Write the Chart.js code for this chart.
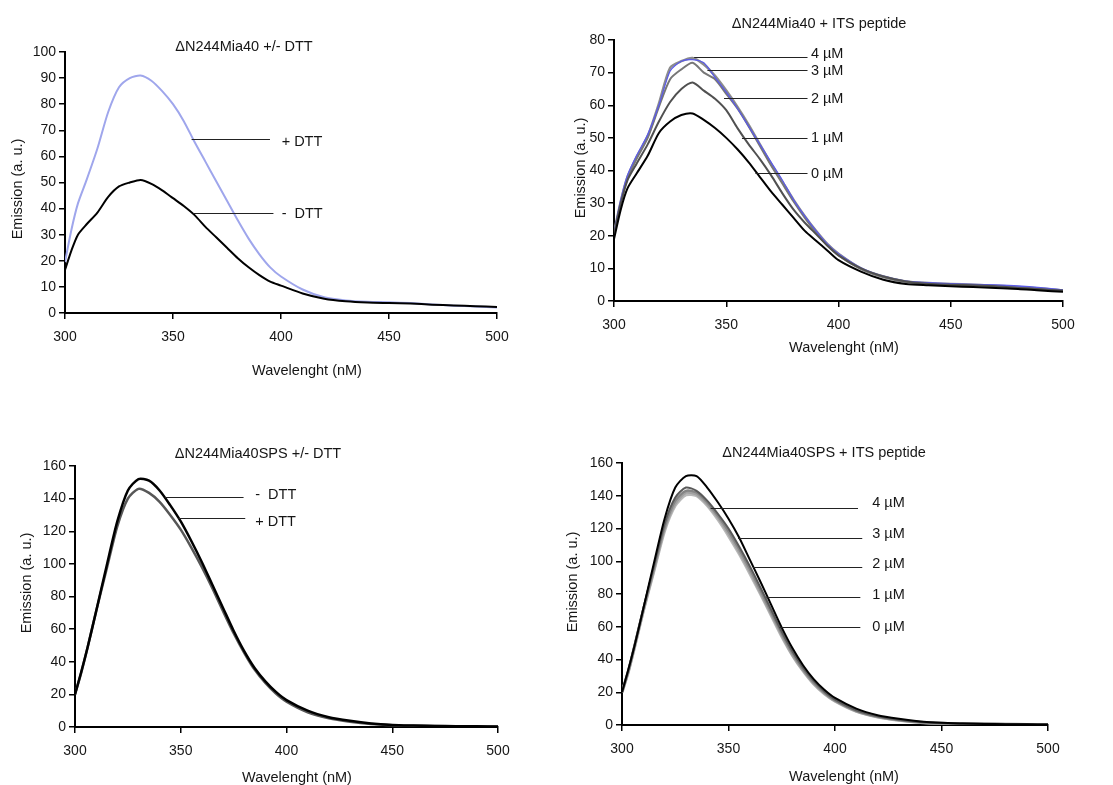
<!DOCTYPE html>
<html>
<head>
<meta charset="utf-8">
<script src="https://cdn.jsdelivr.net/npm/chart.js@4.4.1/dist/chart.umd.min.js"></script>
<style>
  body { margin: 0; background: #fff; }
  #wrap { position: relative; width: 1113px; height: 785px; overflow: hidden; }
  #wrap canvas { position: absolute; left: 0; top: 0; }
</style>
</head>
<body>
<div id="wrap">
  <canvas id="p1" width="1113" height="785"></canvas>
  <canvas id="p2" width="1113" height="785"></canvas>
  <canvas id="p3" width="1113" height="785"></canvas>
  <canvas id="p4" width="1113" height="785"></canvas>
</div>
<script>
// wavelength grid (nm) shared by every spectrum
const wavelength = [300, 303, 306, 310, 315, 320, 325, 330, 335, 340, 345, 350, 355, 360, 365, 370,
                    375, 380, 385, 390, 395, 400, 410, 420, 430, 440, 450, 460, 470, 480, 490, 500];
const xTicks = [300, 350, 400, 450, 500];

// dN244Mia40 +/- DTT
const mia40Plus  = [19.5, 32, 42, 51, 63, 77, 86.5, 90, 91, 89, 85, 80, 73.5, 65.5, 58, 50.5,
                    43, 35.5, 28.5, 22.5, 17.5, 14, 9, 6, 4.8, 4.3, 4.1, 3.8, 3.3, 2.8, 2.5, 2.1];
const mia40Minus = [16.5, 24, 30, 34, 38.5, 44.5, 48.5, 50, 51, 49.5, 47, 44, 41, 37.5, 33, 29,
                    25, 21, 17.5, 14.5, 12, 10.5, 7.5, 5.5, 4.5, 4, 3.8, 3.6, 3.2, 2.9, 2.6, 2.3];

// dN244Mia40 + ITS peptide
const its0 = [19, 28, 34.5, 39, 44.5, 51.5, 55, 57, 57.5, 55.5, 53, 50, 46.5, 42.5, 38, 33.5,
              29.5, 25.5, 21.5, 18.5, 15.5, 12.5, 9, 6.5, 5.2, 4.8, 4.5, 4.3, 4, 3.7, 3.2, 2.8];
const its1 = [20.5, 30, 37, 42, 48, 55, 61, 65, 67, 64.5, 62, 58.5, 53, 48, 43.5, 38.5,
              33, 28, 24, 20.5, 17, 14, 10, 7.5, 6, 5.3, 5, 4.8, 4.5, 4, 3.6, 3.2];
const its2 = [21, 31, 38.5, 44.5, 51, 60, 70.5, 73.5, 74, 73, 68.5, 64, 59, 53.5, 48, 42.5,
              37, 31, 26, 21.5, 17.5, 14.5, 10.2, 7.6, 6.1, 5.6, 5.3, 5.1, 4.9, 4.6, 4.1, 3.4];
const its3 = [20.5, 30, 37.5, 43.5, 50, 59.5, 68, 71, 73, 70, 68, 63.5, 59, 53.5, 47.5, 41.5,
              36, 30.5, 25.5, 21, 17, 14, 9.8, 7.3, 5.9, 5.4, 5.1, 4.9, 4.6, 4.2, 3.7, 3.1];
const its4 = [21, 30.5, 38, 44, 50.5, 60.5, 71.5, 73.5, 74.5, 72.5, 69, 64.5, 59.5, 54, 48, 42,
              36.5, 31, 26, 21.5, 17.5, 14.5, 10, 7.5, 6, 5.5, 5.2, 5, 4.7, 4.3, 3.8, 3.2];

// dN244Mia40SPS +/- DTT
const spsMinus = [20, 34, 49, 71, 99, 126, 145, 152, 151, 145, 136, 126, 114, 101, 87, 73,
                  59, 46.5, 36, 28, 21.5, 16.5, 10, 6, 3.8, 2.2, 1.3, 0.9, 0.6, 0.5, 0.4, 0.3];
const spsPlus  = [20, 33.5, 49, 71, 97, 123, 140, 146, 143.5, 138, 130, 121, 110, 98, 85, 71,
                  57.5, 45.5, 35, 27, 20.5, 15.5, 9, 5.3, 3.2, 1.8, 1.1, 0.8, 0.6, 0.4, 0.3, 0.2];

// dN244Mia40SPS + ITS peptide
const spsIts0 = [20, 34, 49, 71, 99, 126, 145, 152, 152, 145, 136, 126, 114.5, 101, 87.5, 73.5,
                 59.5, 47, 36.5, 28, 21.5, 16.5, 10, 6, 3.8, 2.2, 1.3, 0.9, 0.6, 0.5, 0.4, 0.3];
const spsIts1 = [20, 33.5, 49, 71, 97, 123, 139, 145, 143, 137, 129, 120, 109, 97, 84, 70.5,
                 57, 45, 35, 27, 20.5, 15.5, 9, 5.3, 3.2, 1.9, 1.2, 0.9, 0.7, 0.5, 0.4, 0.3];
const spsIts2 = [20, 33, 49, 70.5, 96, 121, 137, 143, 142, 136, 128, 118.5, 107.5, 95.5, 82.5, 69,
                 56, 44, 34, 26, 19.8, 15, 8.7, 5.1, 3, 1.8, 1.1, 0.8, 0.6, 0.5, 0.4, 0.3];
const spsIts3 = [20, 33, 48.5, 70, 95, 120, 135.5, 142, 141, 135, 127, 117, 106, 94, 81, 68,
                 55, 43, 33.5, 25.5, 19.5, 14.8, 8.5, 5, 3, 1.7, 1, 0.8, 0.6, 0.5, 0.3, 0.2];
const spsIts4 = [20, 32.5, 48, 69.5, 94, 118.5, 134, 140.5, 140, 134, 125.5, 115.5, 104.5, 92.5, 80, 67,
                 54, 42.5, 33, 25, 19, 14.5, 8.3, 4.9, 2.9, 1.6, 1, 0.7, 0.5, 0.4, 0.3, 0.2];

const FONT = '"Liberation Sans", Arial, Helvetica, sans-serif';
const TEXT = '#161616';

const pts = arr => arr.map((v, i) => ({ x: wavelength[i], y: v }));

function line(values, color, width) {
    return { data: pts(values), borderColor: color, borderWidth: width, pointRadius: 0, tension: 0.25, fill: false };
}

// draws titles and the leader-line labels
const panelText = {
    id: 'panelText',
    afterDraw(chart, args, o) {
        const ctx = chart.ctx, xs = chart.scales.x, ys = chart.scales.y;
        ctx.save();
        ctx.fillStyle = TEXT;
        ctx.font = '14.5px ' + FONT;
        ctx.textAlign = 'center';
        ctx.textBaseline = 'middle';
        ctx.fillText(o.title, o.titleX, o.titleY);
        ctx.fillText('Wavelenght (nM)', o.xTitleX, o.xTitleY);
        ctx.save();
        ctx.translate(o.yTitleX, o.yTitleY);
        ctx.rotate(-Math.PI / 2);
        ctx.fillText('Emission (a. u.)', 0, 0);
        ctx.restore();

        ctx.strokeStyle = '#222';
        ctx.lineWidth = 1;
        ctx.textAlign = 'left';
        o.notes.forEach(n => {
            const y = Math.round(ys.getPixelForValue(n.y)) + 0.5;
            ctx.beginPath();
            ctx.moveTo(xs.getPixelForValue(n.x1), y);
            ctx.lineTo(xs.getPixelForValue(n.x2), y);
            ctx.stroke();
            ctx.fillText(n.text, xs.getPixelForValue(n.tx), ys.getPixelForValue(n.ty));
        });
        ctx.restore();
    }
};

// area = [left, top, right, bottom] of the plot area in page pixels
function makeChart(id, area, yMax, yStep, datasets, text) {
    const yW = 40, xH = 30;
    return new Chart(document.getElementById(id), {
        type: 'line',
        data: { datasets: datasets },
        plugins: [panelText],
        options: {
            responsive: false,
            animation: false,
            devicePixelRatio: 1,
            layout: { padding: { left: area[0] - yW, top: area[1], right: 1113 - area[2], bottom: 785 - area[3] - xH } },
            plugins: { legend: { display: false }, tooltip: { enabled: false }, panelText: text },
            scales: {
                x: {
                    type: 'linear', min: 300, max: 500,
                    afterFit: s => { s.height = xH; },
                    afterBuildTicks: s => { s.ticks = xTicks.map(v => ({ value: v })); },
                    grid: { drawOnChartArea: false, drawTicks: true, tickLength: 6, color: '#000', lineWidth: 1.5 },
                    border: { display: true, color: '#000', width: 2 },
                    ticks: { color: TEXT, font: { family: FONT, size: 14 }, padding: 10, maxRotation: 0 }
                },
                y: {
                    min: 0, max: yMax,
                    afterFit: s => { s.width = yW; },
                    grid: { drawOnChartArea: false, drawTicks: true, tickLength: 6, color: '#000', lineWidth: 1.5 },
                    border: { display: true, color: '#000', width: 2 },
                    ticks: { color: TEXT, font: { family: FONT, size: 14 }, padding: 3, stepSize: yStep }
                }
            }
        }
    });
}

makeChart('p1', [65, 52, 497, 313], 100, 10, [
    line(mia40Minus, '#000000', 2),
    line(mia40Plus, '#9fa6ec', 2)
], {
    title: '\u0394N244Mia40 +/- DTT', titleX: 244, titleY: 47,
    xTitleX: 307, xTitleY: 371, yTitleX: 18, yTitleY: 189,
    notes: [
        { text: '+ DTT', x1: 358.6, x2: 394.9, y: 66.7, tx: 400.3, ty: 65.6 },
        { text: '-  DTT', x1: 359.4, x2: 396.5, y: 38.3, tx: 400.3, ty: 38 }
    ]
});

makeChart('p2', [614, 40, 1063, 301], 80, 10, [
    line(its0, '#000000', 2),
    line(its1, '#505050', 2),
    line(its2, '#5c5ce6', 1.3),
    line(its3, '#777777', 2),
    line(its4, '#8c8c8c', 2.5)
], {
    title: '\u0394N244Mia40 + ITS peptide', titleX: 819, titleY: 24,
    xTitleX: 844, xTitleY: 348, yTitleX: 581, yTitleY: 168,
    notes: [
        { text: '4 \u00b5M', x1: 335.7, x2: 386.2, y: 74.8, tx: 387.7, ty: 75.6 },
        { text: '3 \u00b5M', x1: 341.6, x2: 386.2, y: 70.8, tx: 387.7, ty: 70.6 },
        { text: '2 \u00b5M', x1: 349, x2: 386.2, y: 62.1, tx: 387.7, ty: 62 },
        { text: '1 \u00b5M', x1: 357, x2: 386.2, y: 50, tx: 387.7, ty: 50 },
        { text: '0 \u00b5M', x1: 363, x2: 386.2, y: 39.1, tx: 387.7, ty: 39 }
    ]
});

makeChart('p3', [75, 466, 498, 727], 160, 20, [
    line(spsMinus, '#000000', 2.5),
    line(spsPlus, '#575757', 2.5)
], {
    title: '\u0394N244Mia40SPS +/- DTT', titleX: 258, titleY: 454,
    xTitleX: 297, xTitleY: 778, yTitleX: 27, yTitleY: 583,
    notes: [
        { text: '-  DTT', x1: 342.6, x2: 379.7, y: 141.1, tx: 385.2, ty: 142.5 },
        { text: '+ DTT', x1: 348.9, x2: 380.5, y: 128.2, tx: 385.2, ty: 125.8 }
    ]
});

makeChart('p4', [622, 463, 1048, 725], 160, 20, [
    line(spsIts0, '#000000', 2),
    line(spsIts1, '#5a5a5a', 2),
    line(spsIts2, '#858585', 2.5),
    line(spsIts3, '#a2a2a2', 3),
    line(spsIts4, '#b9b9b9', 3)
], {
    title: '\u0394N244Mia40SPS + ITS peptide', titleX: 824, titleY: 453,
    xTitleX: 844, xTitleY: 777, yTitleX: 573, yTitleY: 582,
    notes: [
        { text: '4 \u00b5M', x1: 341.6, x2: 410.8, y: 132.5, tx: 417.5, ty: 135.5 },
        { text: '3 \u00b5M', x1: 354.5, x2: 412.8, y: 114.3, tx: 417.5, ty: 116.8 },
        { text: '2 \u00b5M', x1: 361.5, x2: 412.8, y: 96.2, tx: 417.5, ty: 98.2 },
        { text: '1 \u00b5M', x1: 367.8, x2: 411.9, y: 78.1, tx: 417.5, ty: 79.5 },
        { text: '0 \u00b5M', x1: 374, x2: 411.9, y: 60.1, tx: 417.5, ty: 60.1 }
    ]
});
</script>
</body>
</html>
